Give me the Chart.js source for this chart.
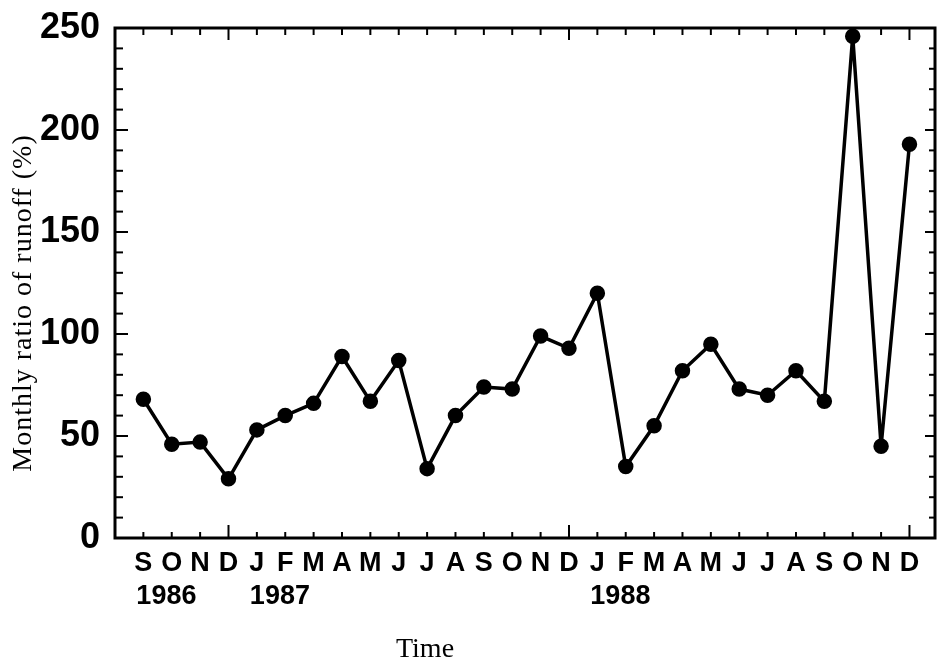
<!DOCTYPE html>
<html>
<head>
<meta charset="utf-8">
<title>Monthly ratio of runoff</title>
<script src="https://cdn.jsdelivr.net/npm/chart.js@4.4.0/dist/chart.umd.min.js"></script>
<style>
  html, body { margin: 0; padding: 0; background: #fff; }
</style>
</head>
<body>
<canvas id="myChart" width="939" height="661"></canvas>
<script>
const ctx = document.getElementById("myChart");

// Sep 1986 .. Dec 1988
const months = ["S", "O", "N", "D", "J", "F", "M", "A", "M", "J", "J", "A", "S", "O",
  "N", "D", "J", "F", "M", "A", "M", "J", "J", "A", "S", "O", "N", "D"];
const runoffRatio = [68, 46, 47, 29, 53, 60, 66, 89, 67, 87, 34, 60, 74, 73,
  99, 93, 120, 35, 55, 82, 95, 73, 70, 82, 67, 246, 45, 193];
const yearLabels = ["1986", "1987", "1988"];
const yearStart = [0, 4, 16];   // index of the month where each year label starts

const xTitle = "Time";
const yTitle = "Monthly ratio of runoff (%)";

var points = runoffRatio.map((v, i) => ({ x: i, y: v }));

function line(c, x1, y1, x2, y2) {
  c.beginPath();
  c.moveTo(x1, y1);
  c.lineTo(x2, y2);
  c.stroke();
}

// label padding would otherwise push the plot area in
function noPadding(s) {
  s.paddingTop = 0;
  s.paddingBottom = 0;
  s.paddingLeft = 0;
  s.paddingRight = 0;
}

// frame with inward ticks on all four sides
const framePlugin = {
  id: "framePlugin",
  beforeDatasetsDraw(chart) {
    const c = chart.ctx;
    const a = chart.chartArea;
    const xs = chart.scales.x;
    const ys = chart.scales.y;
    c.save();
    c.strokeStyle = "#000";
    c.lineWidth = 2;
    months.forEach((m, i) => {
      let px = xs.getPixelForValue(i);
      let big = m === "D";
      line(c, px, a.bottom, px, a.bottom - (big ? 13 : 6));
      line(c, px, a.top, px, a.top + (big ? 12 : 7));
    });
    for (let v = 10; v < 250; v += 10) {
      let py = ys.getPixelForValue(v);
      let big = v % 50 === 0;
      line(c, a.left, py, a.left + (big ? 13 : 8), py);
      line(c, a.right, py, a.right - (big ? 10 : 6), py);
    }
    c.lineWidth = 3;
    c.strokeRect(a.left, a.top, a.right - a.left, a.bottom - a.top);
    c.restore();
  },
  afterDraw(chart) {
    const c = chart.ctx;
    const a = chart.chartArea;
    const xs = chart.scales.x;
    c.save();
    c.fillStyle = "#000";
    c.font = "bold 27px 'Liberation Sans'";
    c.textAlign = "left";
    c.textBaseline = "alphabetic";
    yearLabels.forEach((y, k) => {
      c.fillText(y, xs.getPixelForValue(yearStart[k]) - 7, a.bottom + 66);
    });

    c.font = "28px 'Liberation Serif'";
    c.textAlign = "center";
    c.fillText(xTitle, a.left + 310, a.bottom + 119);

    c.translate(31, (a.top + a.bottom) / 2 + 20);
    c.rotate(-Math.PI / 2);
    c.letterSpacing = "1px";
    c.fillText(yTitle, 0, 0);
    c.restore();
  }
};

var config = {
  type: "line",
  data: {
    datasets: [{
      data: points,
      borderColor: "#000",
      backgroundColor: "#000",
      borderWidth: 3.5,
      pointRadius: 6,
      pointHoverRadius: 6,
      tension: 0,
      clip: false
    }]
  },
  options: {
    responsive: false,
    animation: false,
    events: [],
    layout: { autoPadding: false, padding: { top: 28, right: 4, left: 0, bottom: 0 } },
    plugins: {
      legend: { display: false },
      tooltip: { enabled: false }
    },
    scales: {
      x: {
        type: "linear",
        min: -1,
        max: 27.9,
        afterBuildTicks: (s) => { s.ticks = months.map((m, i) => ({ value: i })); },
        afterFit: (s) => { s.height = 123; noPadding(s); },
        border: { display: false },
        grid: { display: false, drawTicks: false },
        ticks: {
          autoSkip: false,
          maxRotation: 0,
          padding: 9,
          color: "#000",
          font: { family: "'Liberation Sans', Arial, sans-serif", size: 27, weight: "bold" },
          callback: (v) => months[v]
        }
      },
      y: {
        min: 0,
        max: 250,
        afterFit: (s) => { s.width = 115; noPadding(s); },
        border: { display: false },
        grid: { display: false, drawTicks: false },
        ticks: {
          stepSize: 10,
          autoSkip: false,
          padding: 15,
          color: "#000",
          font: { family: "'Liberation Sans', Arial, sans-serif", size: 36, weight: "bold" },
          callback: (v) => v % 50 === 0 ? v : ""
        }
      }
    }
  },
  plugins: [framePlugin]
};

var chart = new Chart(ctx, config);
</script>
</body>
</html>
